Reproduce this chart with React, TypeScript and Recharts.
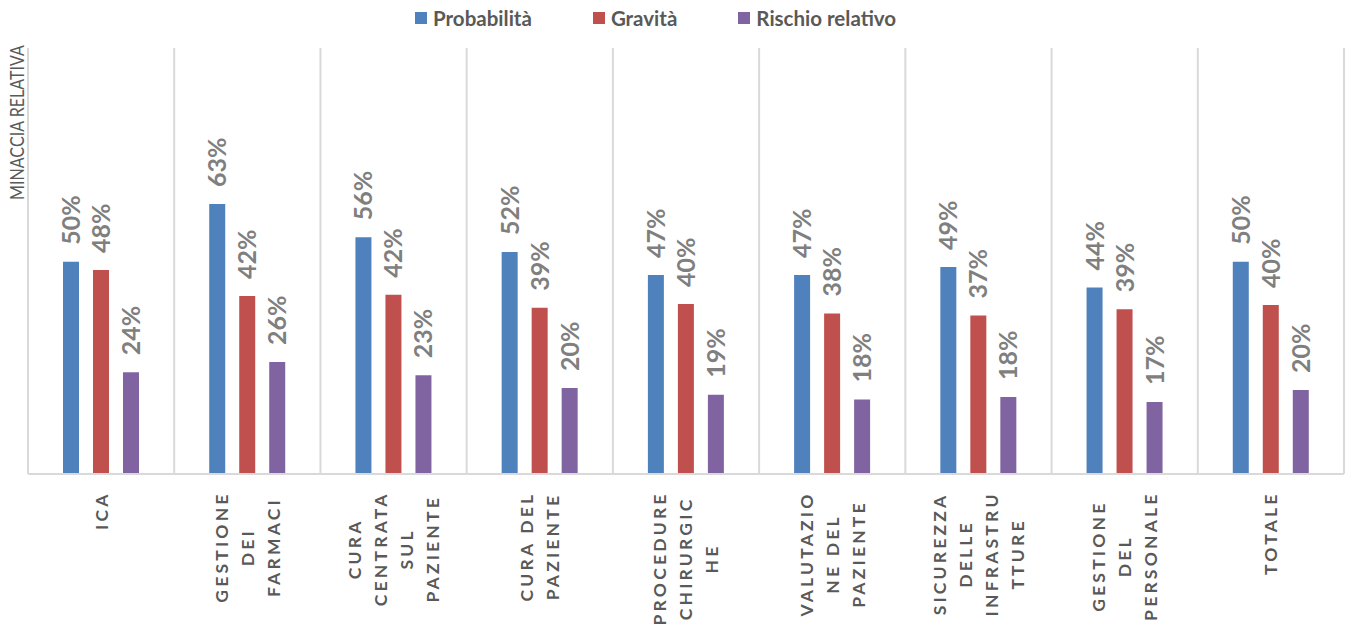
import React from 'react';
import {
  BarChart,
  Bar,
  XAxis,
  YAxis,
  CartesianGrid,
  Legend,
  LabelList,
} from 'recharts';

// categories, one line of the wrapped axis label per "\n"
const categories = [
  'ICA',
  'GESTIONE\nDEI\nFARMACI',
  'CURA\nCENTRATA\nSUL\nPAZIENTE',
  'CURA DEL\nPAZIENTE',
  'PROCEDURE\nCHIRURGIC\nHE',
  'VALUTAZIO\nNE DEL\nPAZIENTE',
  'SICUREZZA\nDELLE\nINFRASTRU\nTTURE',
  'GESTIONE\nDEL\nPERSONALE',
  'TOTALE',
];

const probabilita = [0.498, 0.634, 0.556, 0.521, 0.467, 0.467, 0.486, 0.438, 0.498];
const gravita = [0.479, 0.418, 0.421, 0.39, 0.399, 0.377, 0.372, 0.387, 0.397];
const rischio = [0.239, 0.263, 0.232, 0.202, 0.186, 0.175, 0.181, 0.169, 0.197];

const seriesNames = ['Probabilità', 'Gravità', 'Rischio relativo'];

const data = categories.map((name, i) => ({
  name,
  probabilita: probabilita[i],
  gravita: gravita[i],
  rischio: rischio[i],
}));

const C = {
  blue: '#4f81bd',
  red: '#c0504d',
  purple: '#8064a2',
  grid: '#d9d9d9',
  axisText: '#595959',
  labelText: '#7f7f7f',
  font: 'Lato, "Open Sans", sans-serif',
};

const seriesColors = [C.blue, C.red, C.purple];

let ctx: CanvasRenderingContext2D | null = null;
function textWidth(s: string, font: string, spacing: number) {
  if (!ctx) ctx = document.createElement('canvas').getContext('2d');
  if (!ctx) return s.length * 12;
  ctx.font = font;
  return ctx.measureText(s).width + spacing * (s.length - 1);
}

const TICK_SIZE = 17.5;
const TICK_SPACING = 3.2;
const LINE_GAP = 26;

function CategoryTick(props: any) {
  const { x, y, payload } = props;
  const lines: string[] = String(payload.value).split('\n');
  const font = `bold ${TICK_SIZE}px Lato`;
  const longest = Math.max(...lines.map((l) => textWidth(l, font, TICK_SPACING)));
  const top = y + 17;
  const midY = top + longest / 2;
  return (
    <g>
      {lines.map((line, i) => {
        const cx = x + (i - (lines.length - 1) / 2) * LINE_GAP + 6.5;
        return (
          <text
            key={i}
            x={cx}
            y={midY}
            transform={`rotate(-90 ${cx} ${midY})`}
            textAnchor="middle"
            fill={C.axisText}
            fontFamily={C.font}
            fontWeight={700}
            fontSize={TICK_SIZE}
            style={{ letterSpacing: TICK_SPACING }}
          >
            {line}
          </text>
        );
      })}
    </g>
  );
}

function ValueLabel(props: any) {
  const { x, y, width, value } = props;
  const cx = x + width / 2 + 9;
  const cy = y - 17;
  return (
    <text
      x={cx}
      y={cy}
      transform={`rotate(-90 ${cx} ${cy})`}
      textAnchor="start"
      fill={C.labelText}
      fontFamily={C.font}
      fontWeight={700}
      fontSize={25}
    >
      {`${Math.round(value * 100)}%`}
    </text>
  );
}

function LegendContent() {
  return (
    <div style={{ display: 'flex', paddingLeft: 415, height: 40, alignItems: 'flex-start' }}>
      {seriesNames.map((name, i) => (
        <div
          key={name}
          style={{
            display: 'flex',
            alignItems: 'center',
            marginLeft: i === 0 ? 0 : 61,
            marginTop: 6,
          }}
        >
          <span
            style={{ width: 12, height: 12, background: seriesColors[i], display: 'inline-block', marginRight: 6 }}
          />
          <span
            style={{
              fontFamily: C.font,
              fontWeight: 700,
              fontSize: 20.5,
              color: C.axisText,
              lineHeight: '24px',
            }}
          >
            {name}
          </span>
        </div>
      ))}
    </div>
  );
}

export default function App() {
  return (
    <div style={{ position: 'absolute', left: 0, top: 0, width: 1346, height: 625, background: '#fff' }}>
      <BarChart
        width={1346}
        height={625}
        data={data}
        margin={{ top: 8, right: 2, bottom: 0, left: 28 }}
        barSize={16}
        barGap={14}
      >
        <CartesianGrid
          horizontal={false}
          stroke={C.grid}
          strokeWidth={2}
          verticalCoordinatesGenerator={({ offset }: any) =>
            Array.from({ length: categories.length + 1 }, (_, i) => offset.left + (i * offset.width) / categories.length)
          }
        />
        <XAxis
          dataKey="name"
          interval={0}
          height={151}
          tickLine={false}
          tickSize={0}
          axisLine={{ stroke: C.grid, strokeWidth: 2 }}
          tick={<CategoryTick />}
        />
        <YAxis hide domain={[0, 1]} width={0} />
        <Legend
          verticalAlign="top"
          content={<LegendContent />}
          wrapperStyle={{ top: 0, left: 0, width: 1346, height: 40 }}
        />
        <Bar dataKey="probabilita" name={seriesNames[0]} fill={C.blue} isAnimationActive={false}>
          <LabelList dataKey="probabilita" content={<ValueLabel />} />
        </Bar>
        <Bar dataKey="gravita" name={seriesNames[1]} fill={C.red} isAnimationActive={false}>
          <LabelList dataKey="gravita" content={<ValueLabel />} />
        </Bar>
        <Bar dataKey="rischio" name={seriesNames[2]} fill={C.purple} isAnimationActive={false}>
          <LabelList dataKey="rischio" content={<ValueLabel />} />
        </Bar>
      </BarChart>
      <svg
        width={40}
        height={625}
        style={{ position: 'absolute', left: 0, top: 0, pointerEvents: 'none' }}
      >
        <text
          x={24}
          y={200}
          transform="rotate(-90 24 200)"
          textAnchor="start"
          fill={C.axisText}
          fontFamily={C.font}
          fontSize={19}
          textLength={155}
          lengthAdjust="spacingAndGlyphs"
        >
          MINACCIA RELATIVA
        </text>
      </svg>
    </div>
  );
}
